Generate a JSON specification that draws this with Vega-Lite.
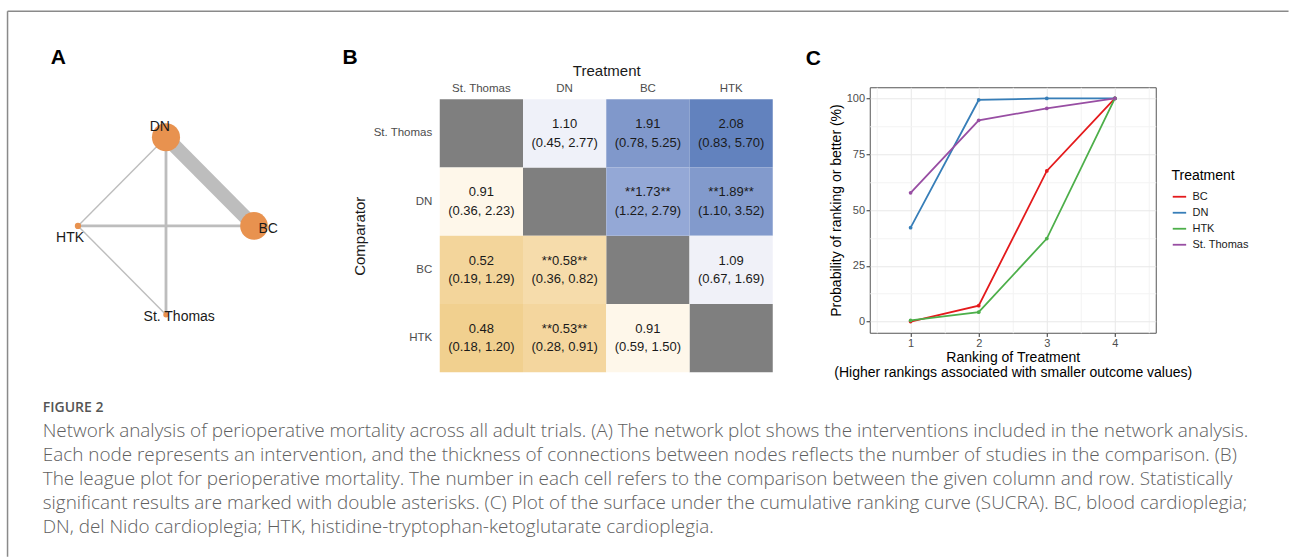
{
  "$schema": "https://vega.github.io/schema/vega-lite/v6.json",
  "background": "white",
  "padding": {"left": 6.75, "top": 10.25, "right": 0, "bottom": 0},
  "config": {
    "font": "Liberation Sans",
    "view": {"stroke": null},
    "axis": {"titleFontWeight": "normal", "labelFont": "Liberation Sans", "titleFont": "Liberation Sans"},
    "legend": {"labelFont": "Liberation Sans", "titleFont": "Liberation Sans"}
  },
  "datasets": {
    "nodes": [
      {"trt": "DN", "lx": 0, "ly": 1, "tx": -0.07, "ty": 1.11, "patients": 1600},
      {"trt": "BC", "lx": 1, "ly": 0, "tx": 1.16, "ty": -0.03, "patients": 1550},
      {"trt": "HTK", "lx": -1, "ly": 0, "tx": -1.09, "ty": -0.14, "patients": 80},
      {"trt": "St. Thomas", "lx": 0, "ly": -1, "tx": 0.15, "ty": -1.03, "patients": 60}
    ],
    "edges": [
      {"from": "DN", "to": "BC", "x": 0, "y": 1, "x2": 1, "y2": 0, "studies": 10},
      {"from": "DN", "to": "St. Thomas", "x": 0, "y": 1, "x2": 0, "y2": -1, "studies": 2},
      {"from": "HTK", "to": "BC", "x": -1, "y": 0, "x2": 1, "y2": 0, "studies": 2},
      {"from": "DN", "to": "HTK", "x": 0, "y": 1, "x2": -1, "y2": 0, "studies": 1},
      {"from": "HTK", "to": "St. Thomas", "x": -1, "y": 0, "x2": 0, "y2": -1, "studies": 1}
    ],
    "league": [
      {"comparator": "St. Thomas", "treatment": "St. Thomas", "or": null, "est": "", "ci": ""},
      {"comparator": "St. Thomas", "treatment": "DN", "or": 1.10, "est": "1.10", "ci": "(0.45, 2.77)"},
      {"comparator": "St. Thomas", "treatment": "BC", "or": 1.91, "est": "1.91", "ci": "(0.78, 5.25)"},
      {"comparator": "St. Thomas", "treatment": "HTK", "or": 2.08, "est": "2.08", "ci": "(0.83, 5.70)"},
      {"comparator": "DN", "treatment": "St. Thomas", "or": 0.91, "est": "0.91", "ci": "(0.36, 2.23)"},
      {"comparator": "DN", "treatment": "DN", "or": null, "est": "", "ci": ""},
      {"comparator": "DN", "treatment": "BC", "or": 1.73, "est": "**1.73**", "ci": "(1.22, 2.79)"},
      {"comparator": "DN", "treatment": "HTK", "or": 1.89, "est": "**1.89**", "ci": "(1.10, 3.52)"},
      {"comparator": "BC", "treatment": "St. Thomas", "or": 0.52, "est": "0.52", "ci": "(0.19, 1.29)"},
      {"comparator": "BC", "treatment": "DN", "or": 0.58, "est": "**0.58**", "ci": "(0.36, 0.82)"},
      {"comparator": "BC", "treatment": "BC", "or": null, "est": "", "ci": ""},
      {"comparator": "BC", "treatment": "HTK", "or": 1.09, "est": "1.09", "ci": "(0.67, 1.69)"},
      {"comparator": "HTK", "treatment": "St. Thomas", "or": 0.48, "est": "0.48", "ci": "(0.18, 1.20)"},
      {"comparator": "HTK", "treatment": "DN", "or": 0.53, "est": "**0.53**", "ci": "(0.28, 0.91)"},
      {"comparator": "HTK", "treatment": "BC", "or": 0.91, "est": "0.91", "ci": "(0.59, 1.50)"},
      {"comparator": "HTK", "treatment": "HTK", "or": null, "est": "", "ci": ""}
    ],
    "sucra": [
      {"treatment": "BC", "rank": 1, "prob": 0},
      {"treatment": "BC", "rank": 2, "prob": 7.1},
      {"treatment": "BC", "rank": 3, "prob": 67.5},
      {"treatment": "BC", "rank": 4, "prob": 100},
      {"treatment": "DN", "rank": 1, "prob": 42.1},
      {"treatment": "DN", "rank": 2, "prob": 99.3},
      {"treatment": "DN", "rank": 3, "prob": 100},
      {"treatment": "DN", "rank": 4, "prob": 100},
      {"treatment": "HTK", "rank": 1, "prob": 0.5},
      {"treatment": "HTK", "rank": 2, "prob": 4.2},
      {"treatment": "HTK", "rank": 3, "prob": 37.2},
      {"treatment": "HTK", "rank": 4, "prob": 100},
      {"treatment": "St. Thomas", "rank": 1, "prob": 57.7},
      {"treatment": "St. Thomas", "rank": 2, "prob": 90.2},
      {"treatment": "St. Thomas", "rank": 3, "prob": 95.5},
      {"treatment": "St. Thomas", "rank": 4, "prob": 100}
    ],
    "caption": [
      {"line": 0, "kind": "label", "text": "FIGURE 2"},
      {"line": 1, "kind": "body", "text": "Network analysis of perioperative mortality across all adult trials. (A) The network plot shows the interventions included in the network analysis."},
      {"line": 2, "kind": "body", "text": "Each node represents an intervention, and the thickness of connections between nodes reflects the number of studies in the comparison. (B)"},
      {"line": 3, "kind": "body", "text": "The league plot for perioperative mortality. The number in each cell refers to the comparison between the given column and row. Statistically"},
      {"line": 4, "kind": "body", "text": "significant results are marked with double asterisks. (C) Plot of the surface under the cumulative ranking curve (SUCRA). BC, blood cardioplegia;"},
      {"line": 5, "kind": "body", "text": "DN, del Nido cardioplegia; HTK, histidine-tryptophan-ketoglutarate cardioplegia."}
    ]
  },
  "bounds": "flush",
  "columns": 3,
  "spacing": {"row": 41.1, "column": 97},
  "concat": [
    {
      "width": 299.3,
      "height": 285,
      "title": {"text": "A", "orient": "top", "anchor": "start", "frame": "group", "offset": 0, "baseline": "middle", "dx": 8, "dy": 68.25, "fontSize": 21, "fontWeight": "bold", "color": "#000000", "font": "Liberation Sans"},
      "layer": [
        {
          "data": {"values": [{}]},
          "mark": {"type": "rule", "color": "#8a8a8a", "strokeWidth": 1.5},
          "encoding": {
            "x": {"datum": -1.8, "type": "quantitative", "scale": {"domain": [-1.4, 2.0], "nice": false, "zero": false}, "axis": null},
            "y": {"datum": 2.42, "type": "quantitative", "scale": {"domain": [-1.649, 1.563], "nice": false, "zero": false}, "axis": null},
            "y2": {"datum": -3.728}
          }
        },
        {
          "data": {"values": [{}]},
          "mark": {"type": "rule", "color": "#8a8a8a", "strokeWidth": 1.5},
          "encoding": {
            "x": {"datum": -1.8, "type": "quantitative", "scale": {"domain": [-1.4, 2.0], "nice": false, "zero": false}, "axis": null},
            "x2": {"datum": 12.752},
            "y": {"datum": 2.42, "type": "quantitative", "scale": {"domain": [-1.649, 1.563], "nice": false, "zero": false}, "axis": null}
          }
        },
        {
          "data": {"name": "edges"},
          "mark": {"type": "rule", "color": "#bdbdbd", "strokeCap": "butt"},
          "encoding": {
            "x": {"field": "x", "type": "quantitative", "scale": {"domain": [-1.4, 2.0], "nice": false, "zero": false}, "axis": null},
            "y": {"field": "y", "type": "quantitative", "scale": {"domain": [-1.649, 1.563], "nice": false, "zero": false}, "axis": null},
            "x2": {"field": "x2"},
            "y2": {"field": "y2"},
            "strokeWidth": {"field": "studies", "type": "quantitative", "scale": {"domain": [0, 10], "range": [0, 14]}, "legend": null}
          }
        },
        {
          "data": {"name": "nodes"},
          "mark": {"type": "circle", "color": "#E8924F", "opacity": 1},
          "encoding": {
            "x": {"field": "lx", "type": "quantitative", "scale": {"domain": [-1.4, 2.0], "nice": false, "zero": false}, "axis": null},
            "y": {"field": "ly", "type": "quantitative", "scale": {"domain": [-1.649, 1.563], "nice": false, "zero": false}, "axis": null},
            "size": {"field": "patients", "type": "quantitative", "scale": {"domain": [0, 1600], "range": [0, 790]}, "legend": null}
          }
        },
        {
          "data": {"name": "nodes"},
          "mark": {"type": "text", "fontSize": 14, "color": "#1a1a1a", "baseline": "middle", "align": "center"},
          "encoding": {
            "x": {"field": "tx", "type": "quantitative", "scale": {"domain": [-1.4, 2.0], "nice": false, "zero": false}, "axis": null},
            "y": {"field": "ty", "type": "quantitative", "scale": {"domain": [-1.649, 1.563], "nice": false, "zero": false}, "axis": null},
            "text": {"field": "trt"}
          }
        }
      ]
    },
    {
      "width": 333,
      "height": 285,
      "data": {"name": "league"},
      "title": {"text": "B", "orient": "top", "anchor": "start", "frame": "group", "offset": 0, "baseline": "middle", "dx": -97.3, "dy": 16, "fontSize": 21, "fontWeight": "bold", "color": "#000000", "font": "Liberation Sans"},
      "encoding": {
        "x": {"field": "treatment", "type": "nominal", "sort": ["St. Thomas", "DN", "BC", "HTK"], "scale": {"paddingInner": 0, "paddingOuter": 0},
          "axis": {"orient": "top", "offset": -12, "title": "Treatment", "ticks": false, "domain": false, "labelAngle": 0, "labelFontSize": 11.5, "labelColor": "#4d4d4d", "labelPadding": 6, "titleFontSize": 15, "titleColor": "#1a1a1a", "titlePadding": 4}},
        "y": {"field": "comparator", "type": "nominal", "sort": ["St. Thomas", "DN", "BC", "HTK"], "scale": {"paddingInner": 0, "paddingOuter": 0.0879, "align": 1},
          "axis": {"title": "Comparator", "titleY": 148.5, "ticks": false, "domain": false, "labelFontSize": 11.5, "labelColor": "#4d4d4d", "labelPadding": 8, "titleFontSize": 15, "titleColor": "#1a1a1a", "titlePadding": 5}}
      },
      "layer": [
        {"transform": [{"filter": "datum.or == null"}], "mark": {"type": "rect", "color": "#7f7f7f"}},
        {"transform": [{"filter": "datum.or != null"}], "mark": {"type": "rect"},
          "encoding": {"color": {"field": "or", "type": "quantitative", "scale": {"type": "log", "domain": [0.48, 0.58, 0.91, 1.1, 1.73, 1.91, 2.08], "range": ["#f1d08f", "#f6dcab", "#fef7ea", "#eff1f9", "#94a8d6", "#8098cb", "#6282be"], "interpolate": "rgb"}, "legend": null}}},
        {"transform": [{"filter": "datum.or != null"}], "mark": {"type": "text", "dy": -9.2, "fontSize": 13, "color": "#1a1a1a", "baseline": "middle"},
          "encoding": {"text": {"field": "est"}}},
        {"transform": [{"filter": "datum.or != null"}], "mark": {"type": "text", "dy": 9.2, "fontSize": 13, "color": "#1a1a1a", "baseline": "middle"},
          "encoding": {"text": {"field": "ci"}}}
      ]
    },
    {
      "width": 286,
      "height": 245.5,
      "view": {"stroke": "#555555", "strokeWidth": 1},
      "data": {"name": "sucra"},
      "title": {"text": "C", "orient": "top", "anchor": "start", "frame": "group", "offset": 0, "baseline": "middle", "dx": -64, "dy": -7.3, "fontSize": 21, "fontWeight": "bold", "color": "#000000", "font": "Liberation Sans"},
      "encoding": {
        "x": {"field": "rank", "type": "quantitative", "scale": {"domain": [0.4, 4.6], "nice": false, "zero": false},
          "axis": {"values": [0.5, 1, 1.5, 2, 2.5, 3, 3.5, 4, 4.5], "labelExpr": "datum.value % 1 === 0 ? '' + datum.value : ''", "labelOverlap": false, "labelFlush": false,
            "title": ["Ranking of Treatment", "(Higher rankings associated with smaller outcome values)"],
            "domain": false, "grid": true,
            "gridColor": {"condition": {"test": "datum.value % 1 === 0", "value": "#e8e8e8"}, "value": "#f3f3f3"},
            "tickColor": {"condition": {"test": "datum.value % 1 === 0", "value": "#333333"}, "value": "transparent"},
            "tickSize": 3.7, "labelFontSize": 11, "labelColor": "#4d4d4d", "labelPadding": 1.5,
            "titleFontSize": 14, "titleColor": "#000000", "titlePadding": 2, "titleLineHeight": 15}},
        "y": {"field": "prob", "type": "quantitative", "scale": {"domain": [-5, 105], "nice": false, "zero": false},
          "axis": {"values": [0, 12.5, 25, 37.5, 50, 62.5, 75, 87.5, 100], "labelExpr": "datum.value % 25 === 0 ? '' + datum.value : ''", "labelOverlap": false, "labelFlush": false,
            "title": "Probability of ranking or better (%)",
            "domain": false, "grid": true,
            "gridColor": {"condition": {"test": "datum.value % 25 === 0", "value": "#e8e8e8"}, "value": "#f3f3f3"},
            "tickColor": {"condition": {"test": "datum.value % 25 === 0", "value": "#333333"}, "value": "transparent"},
            "tickSize": 3.7, "labelFontSize": 11, "labelColor": "#4d4d4d", "labelPadding": 1.5,
            "titleFontSize": 14, "titleColor": "#000000", "titlePadding": 3}},
        "color": {"field": "treatment", "type": "nominal", "scale": {"domain": ["BC", "DN", "HTK", "St. Thomas"], "range": ["#E41A1C", "#377EB8", "#4DAF4A", "#984EA3"]},
          "legend": {"orient": "none", "legendX": 301.7, "legendY": 81.5, "title": "Treatment", "titleFontSize": 14, "titleFontWeight": "normal", "titleColor": "#000000", "labelFontSize": 11, "labelColor": "#1a1a1a", "symbolType": "stroke", "symbolSize": 180, "symbolStrokeWidth": 1.8, "labelOffset": 5, "rowPadding": 3, "titlePadding": 6}}
      },
      "layer": [
        {"mark": {"type": "line", "strokeWidth": 1.8}},
        {"mark": {"type": "circle", "size": 14, "opacity": 1}}
      ]
    },
    {
      "width": 299.3,
      "height": 119.5,
      "data": {"name": "caption"},
      "encoding": {
        "x": {"datum": 0, "type": "quantitative", "scale": {"domain": [0, 1], "nice": false, "zero": false}, "axis": null},
        "y": {"field": "line", "type": "quantitative", "scale": {"domain": [0, 5], "reverse": true, "nice": false, "zero": false}, "axis": null}
      },
      "layer": [
        {"transform": [{"filter": "datum.kind == 'label'"}], "mark": {"type": "text", "align": "left", "baseline": "alphabetic", "dy": -1.4, "font": "Open Sans", "fontSize": 14, "fontWeight": 600, "color": "#555555"}, "encoding": {"text": {"field": "text"}}},
        {"transform": [{"filter": "datum.kind == 'body'"}], "mark": {"type": "text", "align": "left", "baseline": "alphabetic", "font": "Open Sans", "fontSize": 18.9, "fontWeight": 300, "color": "#606060"}, "encoding": {"text": {"field": "text"}}}
      ]
    }
  ]
}
